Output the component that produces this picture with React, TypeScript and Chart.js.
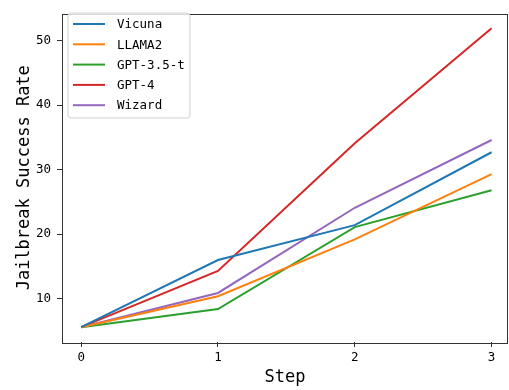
import React, { useEffect, useRef } from "react";
import { Chart, registerables } from "chart.js";

Chart.register(...registerables);

const steps = [0, 1, 2, 3];
const seriesNames = ["Vicuna", "LLAMA2", "GPT-3.5-t", "GPT-4", "Wizard"];
const vicuna = [5.6, 16.0, 21.4, 32.7];
const llama2 = [5.6, 10.4, 19.2, 29.3];
const gpt35 = [5.6, 8.4, 21.1, 26.8];
const gpt4 = [5.6, 14.3, 34.1, 51.9];
const wizard = [5.6, 10.9, 24.1, 34.6];
const seriesValues = [vicuna, llama2, gpt35, gpt4, wizard];
const seriesColors = ["#1f77b4", "#ff7f0e", "#2ca02c", "#d62728", "#9467bd"];
const xTitle = "Step";
const yTitle = "Jailbreak Success Rate";

const MONO = "'DejaVu Sans Mono', 'Liberation Mono', monospace";

const framePlugin = {
  id: "framePlugin",
  afterDatasetsDraw(chart: any) {
    const { ctx, chartArea } = chart;
    ctx.save();
    ctx.strokeStyle = "#333333";
    ctx.lineWidth = 1;
    ctx.strokeRect(
      Math.round(chartArea.left) + 0.5,
      Math.round(chartArea.top) + 0.5,
      Math.round(chartArea.right - chartArea.left) - 1,
      Math.round(chartArea.bottom - chartArea.top)
    );
    // legend
    const bx = 68, by = 13, bw = 122, bh = 105;
    ctx.beginPath();
    const r = 3;
    ctx.moveTo(bx + r, by);
    ctx.arcTo(bx + bw, by, bx + bw, by + bh, r);
    ctx.arcTo(bx + bw, by + bh, bx, by + bh, r);
    ctx.arcTo(bx, by + bh, bx, by, r);
    ctx.arcTo(bx, by, bx + bw, by, r);
    ctx.closePath();
    ctx.fillStyle = "rgba(255,255,255,0.8)";
    ctx.fill();
    ctx.strokeStyle = "#d0d0d0";
    ctx.lineWidth = 1;
    ctx.stroke();
    ctx.font = `12.5px ${MONO}`;
    ctx.textBaseline = "middle";
    ctx.textAlign = "left";
    chart.data.datasets.forEach((ds: any, i: number) => {
      const y = 24 + i * 20.3;
      ctx.beginPath();
      ctx.strokeStyle = ds.borderColor;
      ctx.lineWidth = 2;
      ctx.moveTo(73, y);
      ctx.lineTo(105, y);
      ctx.stroke();
      ctx.fillStyle = "#000";
      ctx.fillText(ds.label, 117, y + 1);
    });
    ctx.restore();
  },
};

export default function App() {
  const ref = useRef<HTMLCanvasElement | null>(null);
  useEffect(() => {
    if (!ref.current) return;
    const chart = new Chart(ref.current, {
      type: "line",
      data: {
        datasets: seriesNames.map((name, i) => ({
          label: name,
          data: steps.map((s, j) => ({ x: s, y: seriesValues[i][j] })),
          borderColor: seriesColors[i],
          backgroundColor: seriesColors[i],
          borderWidth: 2,
          pointRadius: 0,
          tension: 0,
          fill: false,
        })),
      },
      options: {
        animation: false,
        responsive: false,
        devicePixelRatio: 1,
        layout: { padding: { top: 5, right: 1, left: 0, bottom: 0 } },
        plugins: { legend: { display: false }, tooltip: { enabled: false } },
        scales: {
          x: {
            type: "linear",
            min: -0.14,
            max: 3.12,
            afterFit: (s: any) => { s.height = 48; },
            ticks: { stepSize: 1, includeBounds: false, color: "#000", padding: 3, font: { family: MONO, size: 12.5 } },
            grid: { display: true, drawOnChartArea: false, drawTicks: true, tickLength: 5, color: "#333" },
            border: { display: false },
            title: { display: true, text: xTitle, color: "#000", font: { family: MONO, size: 17 }, padding: { top: 0, bottom: 2 } },
          },
          y: {
            type: "linear",
            min: 3.3,
            max: 54.2,
            afterFit: (s: any) => { s.width = 62; },
            ticks: { stepSize: 10, includeBounds: false, color: "#000", padding: 6, font: { family: MONO, size: 12.5 } },
            grid: { display: true, drawOnChartArea: false, drawTicks: true, tickLength: 5, color: "#333" },
            border: { display: false },
            title: { display: true, text: yTitle, color: "#000", font: { family: MONO, size: 17 }, padding: { top: 14, bottom: 0 } },
          },
        },
      },
      plugins: [framePlugin],
    });
    return () => chart.destroy();
  }, []);
  return (
    <div style={{ position: "fixed", left: 0, top: 0, width: 509, height: 390, background: "#fff" }}>
      <canvas ref={ref} width={509} height={390} style={{ width: 509, height: 390 }} />
    </div>
  );
}
